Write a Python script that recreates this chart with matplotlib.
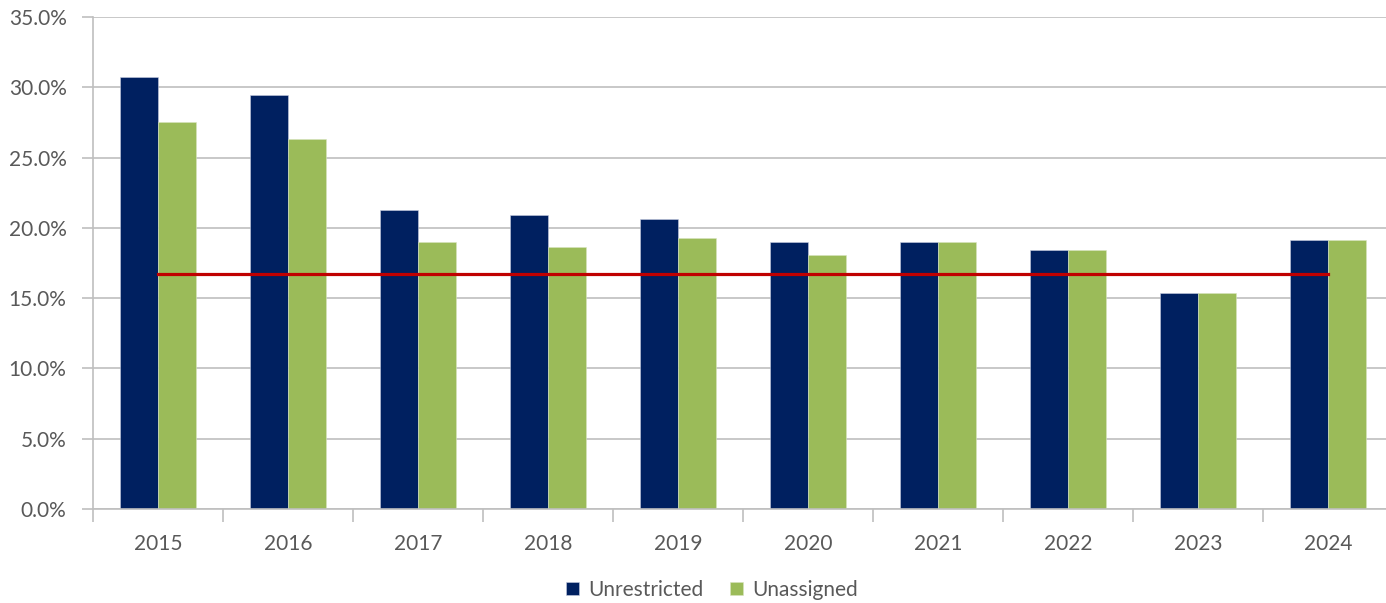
import matplotlib.pyplot as plt
import numpy as np

plt.rcParams['font.family'] = ['Lato', 'DejaVu Sans']

years = ['2015', '2016', '2017', '2018', '2019', '2020', '2021', '2022', '2023', '2024']
unrestricted = [30.7, 29.45, 21.3, 20.9, 20.65, 19.0, 19.0, 18.4, 15.4, 19.15]
unassigned = [27.55, 26.3, 19.0, 18.65, 19.25, 18.05, 19.0, 18.4, 15.4, 19.15]
target = [16.7] * len(years)

NAVY = '#002060'
GREEN = '#9BBB59'
RED = '#C00000'
GRID = '#BFBFBF'
TEXT = '#595959'

fig = plt.figure(figsize=(13.86, 6.03), dpi=100)
ax = fig.add_axes([93 / 1386, 1 - 509 / 603, 1300 / 1386, (509 - 17) / 603])

x = np.arange(len(years))
w = 0.29
ax.bar(x - w / 2, unrestricted, w, color=NAVY, label='Unrestricted', zorder=2,
       edgecolor='#c8cde0', linewidth=0.4)
ax.bar(x + w / 2, unassigned, w, color=GREEN, label='Unassigned', zorder=2,
       edgecolor='#d8e4c0', linewidth=0.4)
ax.plot(x, target, color=RED, linewidth=2.3, zorder=3)

ax.set_xlim(-0.5, len(years) - 0.5)
ax.set_ylim(0, 35)
ax.set_yticks(np.arange(0, 36, 5))
ax.set_yticklabels([f'{v:.1f}%' for v in np.arange(0, 36, 5)])
ax.yaxis.grid(True, color=GRID, linewidth=1.2, zorder=0)
ax.set_axisbelow(True)

ax.set_xticks(x)
ax.set_xticklabels(years)
ax.set_xticks(np.arange(-0.5, len(years), 1), minor=True)
ax.tick_params(axis='x', which='major', length=0, pad=18, labelsize=15, labelcolor=TEXT)
ax.tick_params(axis='x', which='minor', length=9, width=1.2, color=GRID)
ax.tick_params(axis='y', length=8, width=1.2, color=GRID, pad=11, labelsize=15, labelcolor=TEXT)

for s in ['top', 'right']:
    ax.spines[s].set_visible(False)
for s in ['left', 'bottom']:
    ax.spines[s].set_color(GRID)
    ax.spines[s].set_linewidth(1.2)

fig.legend(handles=ax.containers, labels=['Unrestricted', 'Unassigned'],
           loc='center', bbox_to_anchor=(712 / 1386, 1 - 590 / 603), ncol=2,
           frameon=False, fontsize=15, labelcolor=TEXT, handlelength=0.6,
           handleheight=0.6, handletextpad=0.45, columnspacing=1.3)

plt.savefig('out.png', dpi=100)
